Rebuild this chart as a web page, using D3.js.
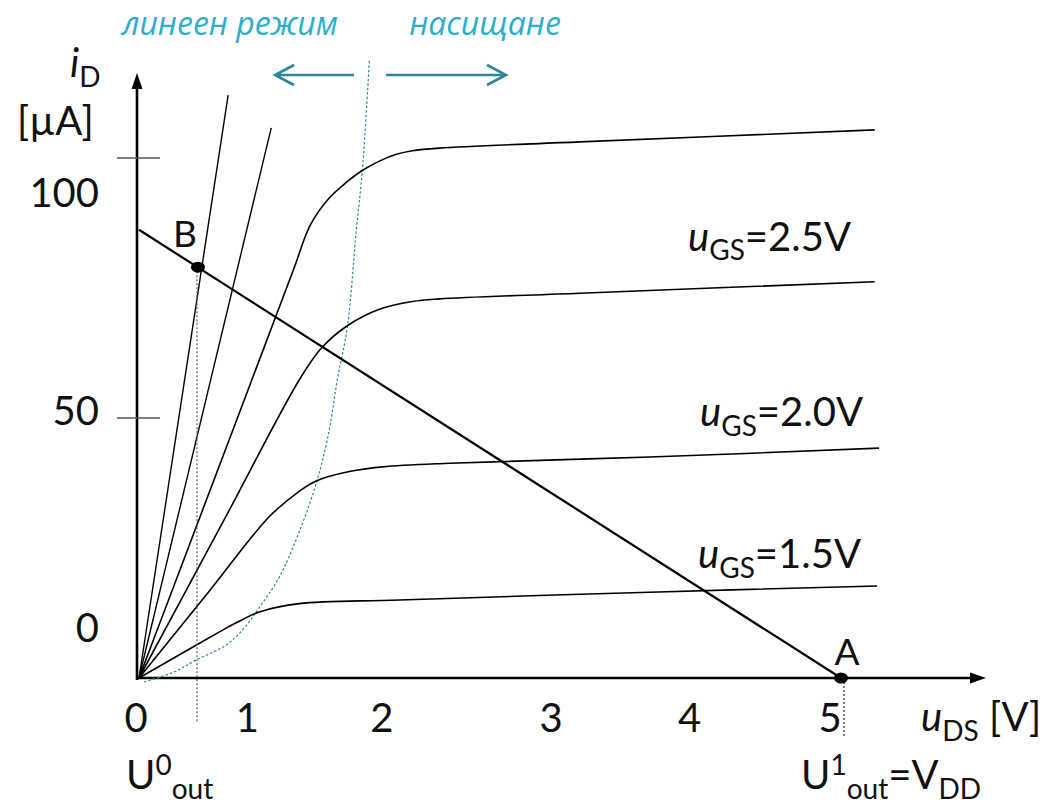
<!DOCTYPE html>
<html>
<head>
<meta charset="utf-8">
<script src="https://cdn.jsdelivr.net/npm/d3@7"></script>
<style>
  body { margin: 0; background: #fff; }
  svg { display: block; }
</style>
</head>
<body>
<svg id="chart" width="1059" height="805"></svg>
<script>
// n-MOS output characteristics i_D(u_DS) with the resistive load line of an inverter

// ---- data (u_DS in V, i_D in µA) ----
const vdd = 5;
const loadLine = [[0, 86.2], [vdd, 0]];
const pointB = [0.42, 79.0];
const pointA = [vdd, 0];

const xTicks = [0, 1, 2, 3, 4, 5];
const yTicks = [0, 50, 100];
const yTickMarks = [50, 100];
const gateLabels = ["2.5V", "2.0V", "1.5V"];

// characteristic for the highest gate voltage (unlabelled)
const curveTop = [[0, 0], [0.6, 42.8], [1.1, 78.5], [1.22, 87.1], [1.355, 92.3], [1.476, 95.3],
  [1.59, 97.6], [1.712, 99.4], [1.833, 100.7], [1.947, 101.4], [2.14, 101.9], [3.14, 103.1], [5.24, 105.4]];
const curve25 = [[0, 0], [0.6, 30.1], [1.141, 57.3], [1.298, 63.4], [1.476, 67.6], [1.712, 70.9],
  [1.947, 72.4], [2.14, 72.9], [3.14, 74.0], [5.24, 76.2]];
const curve20 = [[0, 0], [0.5, 16.7], [0.927, 31.0], [1.141, 35.9], [1.262, 37.9], [1.498, 39.7],
  [1.733, 40.6], [2.211, 41.3], [3.638, 42.5], [5.271, 44.2]];
const curve15 = [[0, 0], [0.4, 6.2], [0.621, 9.6], [0.749, 11.4], [0.856, 12.7], [1.141, 14.3], [1.854, 15.0],
  [3.638, 16.5], [5.257, 17.7]];

// ohmic-region lines for still higher gate voltages
const fanLines = [
  [[0, 0], [0.635, 112.1]],
  [[0, 0], [0.942, 105.8]]
];

// boundary between the linear and the saturation region
const boundary = [[0.036, -0.77], [0.25, 1.15], [0.407, 3.46], [0.621, 6.35], [0.749, 9.6],
  [0.856, 13.5], [0.999, 19.4], [1.141, 28.1], [1.27, 38.1], [1.355, 47.7], [1.412, 57.3],
  [1.484, 67.5], [1.548, 86.2], [1.591, 97.7], [1.641, 118.8]];

// ---- layout ----
const svg = d3.select("#chart");
const x = d3.scaleLinear().domain([0, 5]).range([139, 841]);
const y = d3.scaleLinear().domain([0, 100]).range([678, 158]);

const FONT = "Lato, 'Open Sans', 'Noto Sans', sans-serif";
const TEAL_TEXT = "#2aaecb";
const TEAL_LINE = "#2a8899";

const line = d3.line().x(d => x(d[0])).y(d => y(d[1]));
const smooth = d3.line().x(d => x(d[0])).y(d => y(d[1])).curve(d3.curveCatmullRom.alpha(0.5));

// rich text helper: parts = [text, kind] with kind "n" normal, "i" italic, "sub", "sup"
function rich(px, py, parts, size, anchor = "start") {
  const t = svg.append("text")
    .attr("x", px).attr("y", py)
    .attr("font-family", FONT)
    .attr("font-size", size)
    .attr("fill", "#111")
    .attr("text-anchor", anchor);
  let shift = 0;
  parts.forEach(([s, kind]) => {
    const target = kind === "sub" ? size * 0.24 : kind === "sup" ? -size * 0.36 : 0;
    const sp = t.append("tspan").text(s).attr("dy", target - shift);
    shift = target;
    if (kind === "sub" || kind === "sup") sp.attr("font-size", size * 0.7);
    if (kind === "i") sp.attr("font-style", "italic");
  });
  return t;
}

// ---- axes ----
svg.append("line")
  .attr("x1", x(0) - 2).attr("y1", y(0) + 2).attr("x2", x(0) - 2).attr("y2", 86)
  .attr("stroke", "#000").attr("stroke-width", 2.6);
svg.append("path")
  .attr("d", `M${x(0) - 2},73 L${x(0) - 7.5},89 L${x(0) + 3.5},89 Z`)
  .attr("fill", "#000");
svg.append("line")
  .attr("x1", x(0) - 3).attr("y1", y(0)).attr("x2", 972).attr("y2", y(0))
  .attr("stroke", "#000").attr("stroke-width", 2.6);
svg.append("path")
  .attr("d", `M986,${y(0)} L970,${y(0) - 5.5} L970,${y(0) + 5.5} Z`)
  .attr("fill", "#000");

// short tick marks on the current axis
svg.selectAll(".ytick").data(yTickMarks).join("line")
  .attr("x1", x(0) - 22).attr("x2", x(0) + 21)
  .attr("y1", d => y(d)).attr("y2", d => y(d))
  .attr("stroke", "#555").attr("stroke-width", 1.3);

// tick labels (hand-placed beside their values)
const yLabelNudge = { 0: -36, 50: 7, 100: 49 };
svg.selectAll(".ylab").data(yTicks).join("text")
  .attr("x", 99).attr("y", d => y(d) + yLabelNudge[d])
  .attr("text-anchor", "end")
  .attr("font-family", FONT).attr("font-size", 40).attr("fill", "#111")
  .text(d => d);

const xLabelNudge = [-3, -32, -38, -9, -11, -11];
svg.selectAll(".xlab").data(xTicks).join("text")
  .attr("x", (d, i) => x(d) + xLabelNudge[i]).attr("y", 732)
  .attr("text-anchor", "middle")
  .attr("font-family", FONT).attr("font-size", 40).attr("fill", "#111")
  .text(d => d);

// axis titles
rich(70, 77, [["i", "i"], ["D", "sub"]], 40);
rich(17, 135, [["[µA]", "n"]], 40);
rich(921, 731, [["u", "i"], ["DS", "sub"], [" [V]", "n"]], 40);

// ---- saturation boundary ----
svg.append("path")
  .datum(boundary)
  .attr("d", d3.line().x(d => x(d[0])).y(d => y(d[1])).curve(d3.curveCatmullRom))
  .attr("fill", "none").attr("stroke", TEAL_LINE)
  .attr("stroke-width", 1.2).attr("stroke-dasharray", "2.5,2");

// ---- characteristics ----
fanLines.forEach(f => {
  svg.append("path").datum(f).attr("d", line)
    .attr("fill", "none").attr("stroke", "#000").attr("stroke-width", 1.4);
});
const curves = [curveTop, curve25, curve20, curve15];
curves.forEach(c => {
  svg.append("path").datum(c).attr("d", smooth)
    .attr("fill", "none").attr("stroke", "#000").attr("stroke-width", 1.6);
});

// u_GS labels sit above the right end of their curve
const labelLift = [31, 22, 18];
const labelLeft = [688, 700, 698];
[curve25, curve20, curve15].forEach((c, i) => {
  const end = c[c.length - 1];
  rich(labelLeft[i], y(end[1]) - labelLift[i], [["u", "i"], ["GS", "sub"], ["=" + gateLabels[i], "n"]], 40);
});

// ---- load line and operating points ----
svg.append("path").datum(loadLine).attr("d", line)
  .attr("fill", "none").attr("stroke", "#000").attr("stroke-width", 2.2);

svg.append("line")
  .attr("x1", x(pointB[0]) - 1).attr("x2", x(pointB[0]) - 1)
  .attr("y1", y(pointB[1])).attr("y2", y(-8.5))
  .attr("stroke", "#666").attr("stroke-width", 1.3).attr("stroke-dasharray", "2,2");
svg.append("line")
  .attr("x1", x(pointA[0]) + 3).attr("x2", x(pointA[0]) + 3)
  .attr("y1", y(0)).attr("y2", y(-11.5))
  .attr("stroke", "#222").attr("stroke-width", 1.2).attr("stroke-dasharray", "2,2");

[pointB, pointA].forEach(p => {
  svg.append("ellipse")
    .attr("cx", x(p[0])).attr("cy", y(p[1]))
    .attr("rx", 7).attr("ry", 5.5).attr("fill", "#000");
});
rich(x(pointB[0]) - 13, y(pointB[1]) - 20, [["B", "n"]], 37, "middle");
rich(x(pointA[0]) + 6, y(pointA[1]) - 13, [["A", "n"]], 37, "middle");

// output voltage levels
rich(126, 789, [["U", "n"], ["0", "sup"], ["out", "sub"]], 40);
rich(801, 789, [["U", "n"], ["1", "sup"], ["out", "sub"], ["=V", "n"], ["DD", "sub"]], 40);

// ---- operating regions ----
const regionFont = "'Open Sans', 'Noto Sans', sans-serif";
svg.append("text").attr("x", 230).attr("y", 35).attr("text-anchor", "middle")
  .attr("font-family", regionFont).attr("font-style", "italic").attr("font-size", 32)
  .attr("fill", TEAL_TEXT).text("линеен режим");
svg.append("text").attr("x", 485).attr("y", 35).attr("text-anchor", "middle")
  .attr("font-family", regionFont).attr("font-style", "italic").attr("font-size", 32)
  .attr("fill", TEAL_TEXT).text("насищане");

const arrowY = 75;
svg.append("path")
  .attr("d", `M354,${arrowY} L275,${arrowY} M294,${arrowY - 10} L275,${arrowY} L294,${arrowY + 10}`)
  .attr("fill", "none").attr("stroke", TEAL_LINE).attr("stroke-width", 2.6);
svg.append("path")
  .attr("d", `M386,${arrowY} L506,${arrowY} M487,${arrowY - 10} L506,${arrowY} L487,${arrowY + 10}`)
  .attr("fill", "none").attr("stroke", TEAL_LINE).attr("stroke-width", 2.6);
</script>
</body>
</html>
